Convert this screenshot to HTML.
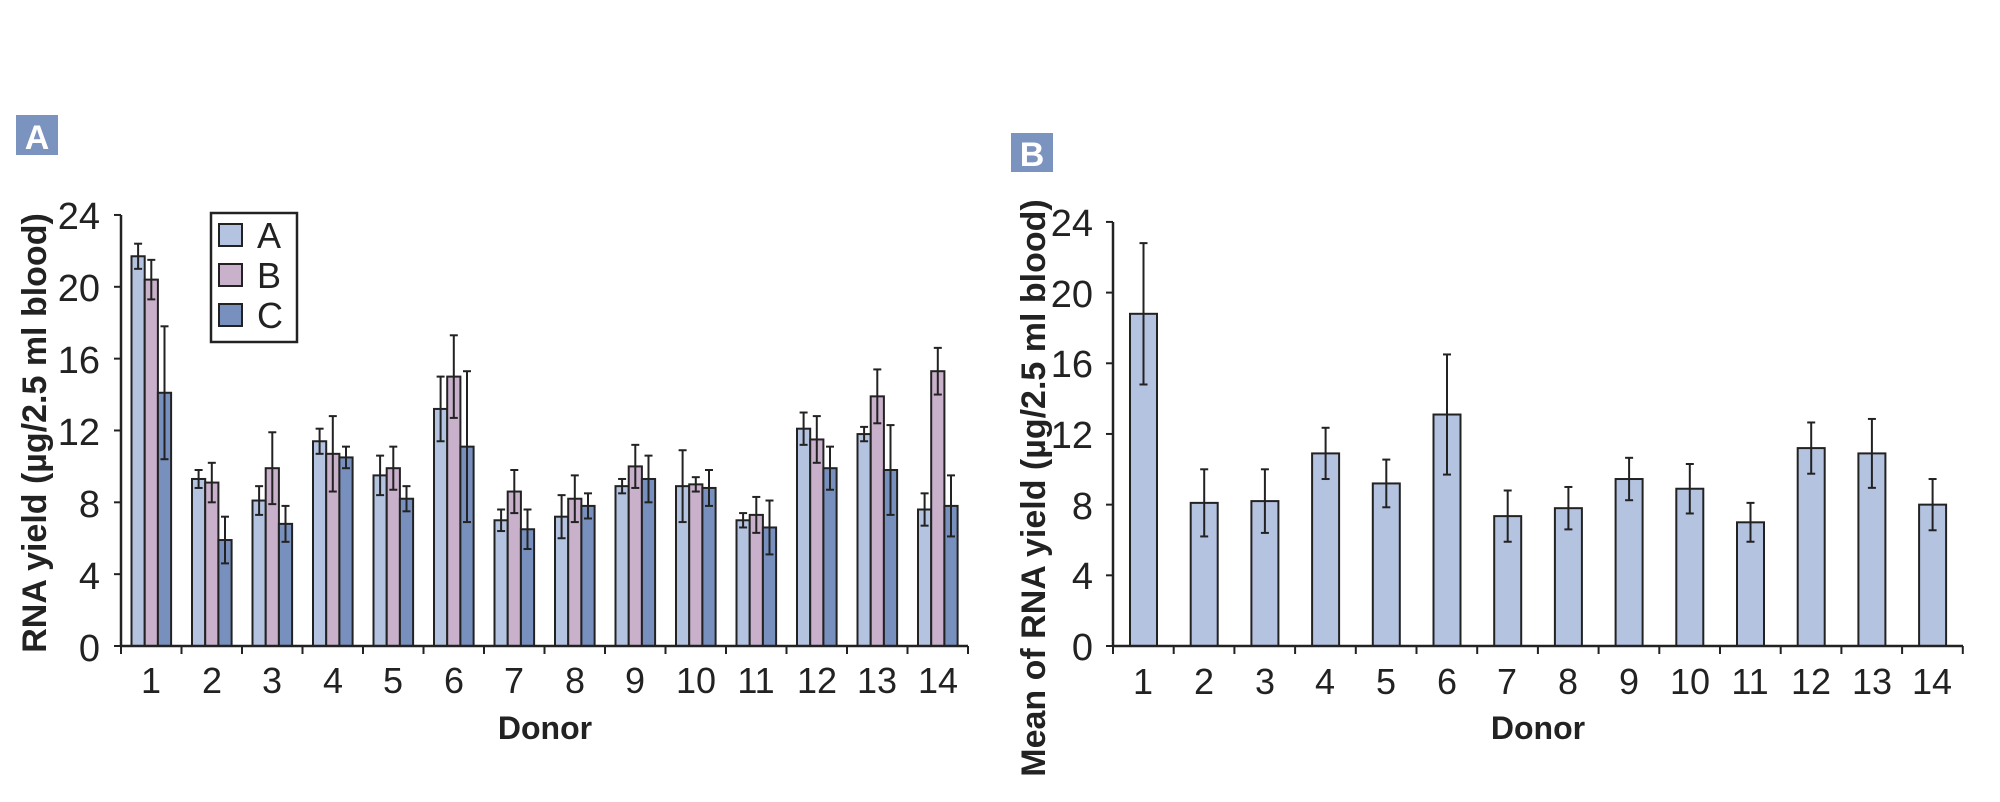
<!DOCTYPE html>
<html><head><meta charset="utf-8"><style>
html,body{margin:0;padding:0;background:#fff;}
svg{display:block;font-family:"Liberation Sans",sans-serif;}
</style></head><body>
<svg id="s" width="2000" height="802" viewBox="0 0 2000 802">
<rect width="2000" height="802" fill="#fff"/>
<rect x="16" y="115" width="42" height="40" fill="#7a93bf"/>
<text x="37" y="149" font-size="34" font-weight="bold" fill="#fff" text-anchor="middle">A</text>
<rect x="1011" y="133" width="42" height="39" fill="#7a93bf"/>
<text x="1032" y="166" font-size="34" font-weight="bold" fill="#fff" text-anchor="middle">B</text>

<g font-size="38" fill="#222" text-anchor="end">
<text x="100" y="229">24</text><text x="100" y="301">20</text><text x="100" y="373">16</text>
<text x="100" y="445">12</text><text x="100" y="517">8</text><text x="100" y="589">4</text><text x="100" y="661">0</text>
<text x="1093" y="236">24</text><text x="1093" y="307">20</text><text x="1093" y="377">16</text>
<text x="1093" y="448">12</text><text x="1093" y="519">8</text><text x="1093" y="589">4</text><text x="1093" y="660">0</text>
</g>
<g font-size="36" fill="#222" text-anchor="middle">
<text x="151" y="693">1</text><text x="212" y="693">2</text><text x="272" y="693">3</text><text x="333" y="693">4</text><text x="393" y="693">5</text><text x="454" y="693">6</text><text x="514" y="693">7</text><text x="575" y="693">8</text><text x="635" y="693">9</text><text x="696" y="693">10</text><text x="756" y="693">11</text><text x="817" y="693">12</text><text x="877" y="693">13</text><text x="938" y="693">14</text>
<text x="1143" y="694">1</text><text x="1204" y="694">2</text><text x="1265" y="694">3</text><text x="1325" y="694">4</text><text x="1386" y="694">5</text><text x="1447" y="694">6</text><text x="1507" y="694">7</text><text x="1568" y="694">8</text><text x="1629" y="694">9</text><text x="1690" y="694">10</text><text x="1750" y="694">11</text><text x="1811" y="694">12</text><text x="1872" y="694">13</text><text x="1932" y="694">14</text>
</g>
<g font-size="32" font-weight="bold" fill="#222" text-anchor="middle">
<text x="545" y="739">Donor</text>
<text x="1538" y="739">Donor</text>
<text transform="translate(46,433) rotate(-90)" font-size="34">RNA yield (µg/2.5 ml blood)</text>
<text transform="translate(1045,488) rotate(-90)" font-size="34">Mean of RNA yield (µg/2.5 ml blood)</text>
</g>
<rect x="211" y="213" width="86" height="129" fill="#fff" stroke="#222" stroke-width="2.5"/>
<rect x="219" y="224" width="23" height="22" fill="#b4c3e0" stroke="#222" stroke-width="2"/>
<rect x="219" y="264" width="23" height="22" fill="#c9b1cc" stroke="#222" stroke-width="2"/>
<rect x="219" y="304" width="23" height="22" fill="#7890bd" stroke="#222" stroke-width="2"/>
<g font-size="36" fill="#222"><text x="257" y="248">A</text><text x="257" y="288">B</text><text x="257" y="328">C</text></g>
<g id="g"></g>
</svg>
<script>
var g=document.getElementById('g'),NS='http://www.w3.org/2000/svg';
function el(t,a){var e=document.createElementNS(NS,t);for(var k in a)e.setAttribute(k,a[k]);g.appendChild(e);}
function line(x1,y1,x2,y2,w){el('line',{x1:x1,y1:y1,x2:x2,y2:y2,stroke:'#222','stroke-width':w||2});}
var A=[[21.7,.7,20.4,1.1,14.1,3.7],[9.3,.5,9.1,1.1,5.9,1.3],[8.1,.8,9.9,2,6.8,1],[11.4,.7,10.7,2.1,10.5,.6],[9.5,1.1,9.9,1.2,8.2,.7],[13.2,1.8,15,2.3,11.1,4.2],[7,.6,8.6,1.2,6.5,1.1],[7.2,1.2,8.2,1.3,7.8,.7],[8.9,.4,10,1.2,9.3,1.3],[8.9,2,9,.4,8.8,1],[7,.4,7.3,1,6.6,1.5],[12.1,.9,11.5,1.3,9.9,1.2],[11.8,.4,13.9,1.5,9.8,2.5],[7.6,.9,15.3,1.3,7.8,1.7]];
var cols=['#b4c3e0','#c9b1cc','#7890bd'];
var x0=121,y0=646,u=17.96,cw=60.5;
for(var i=0;i<14;i++){for(var j=0;j<3;j++){var v=A[i][2*j],e=A[i][2*j+1];var bx=x0+cw*i+10.5+j*13.2,cx=bx+6.6;
el('rect',{x:bx,y:y0-v*u,width:13.2,height:v*u,fill:cols[j],stroke:'#222','stroke-width':2});
line(cx,y0-(v+e)*u,cx,y0-(v-e)*u);line(cx-4,y0-(v+e)*u,cx+4,y0-(v+e)*u);line(cx-4,y0-(v-e)*u,cx+4,y0-(v-e)*u);}}
line(x0,y0,968,y0,2.5);line(x0,215,x0,y0,2.5);
for(var k=0;k<=14;k++)line(x0+cw*k,y0,x0+cw*k,y0+8);
for(var k=0;k<=6;k++)line(x0-7,y0-4*k*u,x0,y0-4*k*u);
var B=[[18.8,4],[8.1,1.9],[8.2,1.8],[10.9,1.45],[9.2,1.35],[13.1,3.4],[7.35,1.45],[7.8,1.2],[9.45,1.2],[8.9,1.4],[7,1.1],[11.2,1.45],[10.9,1.95],[8,1.45]];
var X0=1113,Y0=646,U=17.67,CW=60.7;
for(var i=0;i<14;i++){var v=B[i][0],e=B[i][1],bx=X0+CW*i+17,cx=bx+13.5;
el('rect',{x:bx,y:Y0-v*U,width:27,height:v*U,fill:'#b4c3e0',stroke:'#222','stroke-width':2});
line(cx,Y0-(v+e)*U,cx,Y0-(v-e)*U);line(cx-4,Y0-(v+e)*U,cx+4,Y0-(v+e)*U);line(cx-4,Y0-(v-e)*U,cx+4,Y0-(v-e)*U);}
line(X0,Y0,1963,Y0,2.5);line(X0,222,X0,Y0,2.5);
for(var k=0;k<=14;k++)line(X0+CW*k,Y0,X0+CW*k,Y0+8);
for(var k=0;k<=6;k++)line(X0-7,Y0-4*k*U,X0,Y0-4*k*U);
</script>
</body></html>
